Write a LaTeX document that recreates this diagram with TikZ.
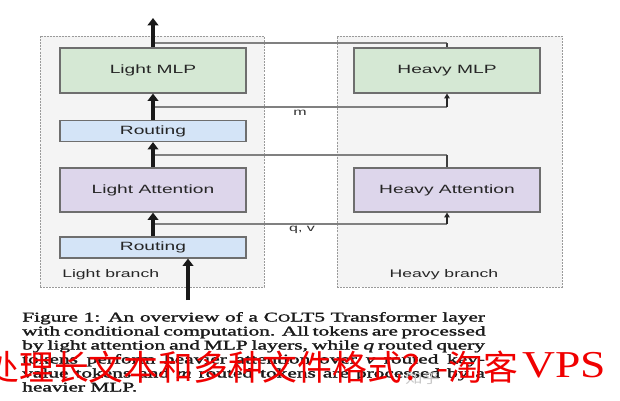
\documentclass[tikz,border=0pt]{standalone}
\usepackage{fontspec}
\setmainfont{Liberation Serif}
\setsansfont{Liberation Sans}
\newfontfamily\cjk{Noto Sans CJK SC}
\newfontfamily\capfont{Liberation Serif}[FakeBold=1.5]
\usetikzlibrary{arrows.meta,calc}
\definecolor{mlpgreen}{HTML}{D5E8D4}
\definecolor{routeblue}{HTML}{D4E4F7}
\definecolor{attpurple}{HTML}{DDD6EB}
\definecolor{boxedge}{HTML}{6E6E6E}
\definecolor{branchbg}{HTML}{F4F4F4}
\definecolor{branchedge}{HTML}{9A9A9A}
\definecolor{sideline}{HTML}{808080}
\definecolor{wmred}{HTML}{F00000}
\definecolor{captext}{HTML}{1A1A1A}
\definecolor{wmgray}{HTML}{C8C8C8}
\begin{document}
\begin{tikzpicture}[x=0.75pt,y=-0.75pt,
  branch/.style={draw=branchedge, fill=branchbg, line width=0.7pt,
    dash pattern=on 1.5pt off 0.8pt, inner sep=0, minimum height=188.25pt},
  blk/.style={draw=boxedge, line width=0.9pt, minimum width=139.5pt, inner sep=0,
    font=\sffamily\fontsize{9}{9}\selectfont, text=black!85},
  bigblk/.style={blk, minimum height=33.75pt},
  smallblk/.style={blk, minimum height=15.75pt, fill=routeblue},
  brlabel/.style={inner sep=0, font=\sffamily\fontsize{8.25}{8.25}\selectfont, text=black!85},
  sidelabel/.style={inner sep=0, font=\sffamily\fontsize{7.5}{7.5}\selectfont, text=black!80},
  mainarrow/.style={line width=2.4pt, black!90, -{Triangle[width=8pt,length=5.5pt]}},
  sideh/.style={line width=0.9pt, sideline},
  sidev/.style={line width=1.1pt, black!75},
  sidearrow/.style={line width=1.1pt, black!85, -{Triangle[width=4pt,length=3.5pt]}},
  capline/.style={anchor=base west, inner sep=0, text=captext,
    font=\capfont\fontsize{10}{10.5}\selectfont},
]
\useasboundingbox (0,0) rectangle (620,400);
\fill[white] (0,0) rectangle (620,400);

% branch backgrounds
\node[branch, minimum width=168pt] (lb) at (152,161.5) {};
\node[branch, minimum width=168.75pt] (hb) at (449.5,161.5) {};

% light branch blocks
\node[bigblk, fill=mlpgreen] (lmlp) at (153,70.5) {\scalebox{1.6}[1]{Light MLP}};
\node[smallblk] (r1) at (153,131) {\scalebox{1.6}[1]{Routing}};
\node[bigblk, fill=attpurple, minimum height=33pt] (la) at (153,190) {\scalebox{1.6}[1]{Light Attention}};
\node[smallblk] (r2) at (153,247.5) {\scalebox{1.6}[1]{Routing}};

% heavy branch blocks
\node[bigblk, fill=mlpgreen] (hmlp) at (447,70.5) {\scalebox{1.6}[1]{Heavy MLP}};
\node[bigblk, fill=attpurple, minimum height=33pt] (hatt) at (447,190) {\scalebox{1.6}[1]{Heavy Attention}};

% branch labels
\node[brlabel, anchor=west] (lbl) at (62,275) {\scalebox{1.6}[1]{Light branch}};
\node[brlabel] (hbl) at (444,275) {\scalebox{1.6}[1]{Heavy branch}};

% junction coordinates on the main column
\coordinate (ja) at (153,43);
\coordinate (jb) at (153,107);
\coordinate (jc) at (153,155);
\coordinate (jd) at (153,224);
\coordinate (out) at (153,18);
\coordinate (in) at (188,300);

% side connectors
\draw[sideh] (ja) -- (ja -| hmlp.north);
\draw[sidev] (ja -| hmlp.north) -- (hmlp.north);
\draw[sideh] (jb) -- (jb -| hmlp.south);
\draw[sidearrow] (jb -| hmlp.south) -- (hmlp.south);
\draw[sideh] (jc) -- (jc -| hatt.north);
\draw[sidev] (jc -| hatt.north) -- (hatt.north);
\draw[sideh] (jd) -- (jd -| hatt.south);
\draw[sidearrow] (jd -| hatt.south) -- (hatt.south);

\node[sidelabel] (ml) at (300,113) {\scalebox{1.6}[1]{m}};
\node[sidelabel] (qvl) at (302,230) {\scalebox{1.6}[1]{q, v}};

% main column
\draw[mainarrow] (lmlp.north) -- (out);
\draw[mainarrow] (r1.north) -- (lmlp.south);
\draw[mainarrow] (la.north) -- (r1.south);
\draw[mainarrow] (r2.north) -- (la.south);
\draw[mainarrow] (in) -- (in |- r2.south);

% caption
\node[capline] (c1) at (22,321.5) {\scalebox{1.6}[1]{\makebox[216.9pt][s]{Figure 1: An overview of a C{\fontsize{8}{8}\selectfont O}LT5 Transformer layer}}};
\node[capline] (c2) at (22,335.5) {\scalebox{1.6}[1]{\makebox[216.9pt][s]{with conditional computation. All tokens are processed}}};
\node[capline] (c3) at (22,349.5) {\scalebox{1.6}[1]{\makebox[216.9pt][s]{by light attention and MLP layers, while \textit{q} routed query}}};
\node[capline] (c4) at (22,363.5) {\scalebox{1.6}[1]{\makebox[216.9pt][s]{tokens perform heavier attention over \textit{v} routed key-}}};
\node[capline] (c5) at (22,377.5) {\scalebox{1.6}[1]{\makebox[216.9pt][s]{value tokens and \textit{m} routed tokens are processed by a}}};
\node[capline] (c6) at (22,391.5) {\scalebox{1.6}[1]{heavier MLP.}};

% watermarks
\node[anchor=base west, inner sep=0, text=wmgray] (zh) at (405,383) {\cjk\fontsize{10}{10}\selectfont\scalebox{1.3}[1]{知乎}};
\node[anchor=base west, inner sep=0, text=wmred] (wm) at (-15.8,380.6) {\cjk\fontsize{26.1}{26.1}\selectfont 处理长文本和多种文件格式？-淘客};
\node[anchor=base west, inner sep=0, text=wmred] (vps) at (522,377) {\fontsize{28.5}{28.5}\selectfont\scalebox{1.2}[1]{VPS}};
\end{tikzpicture}
\end{document}
